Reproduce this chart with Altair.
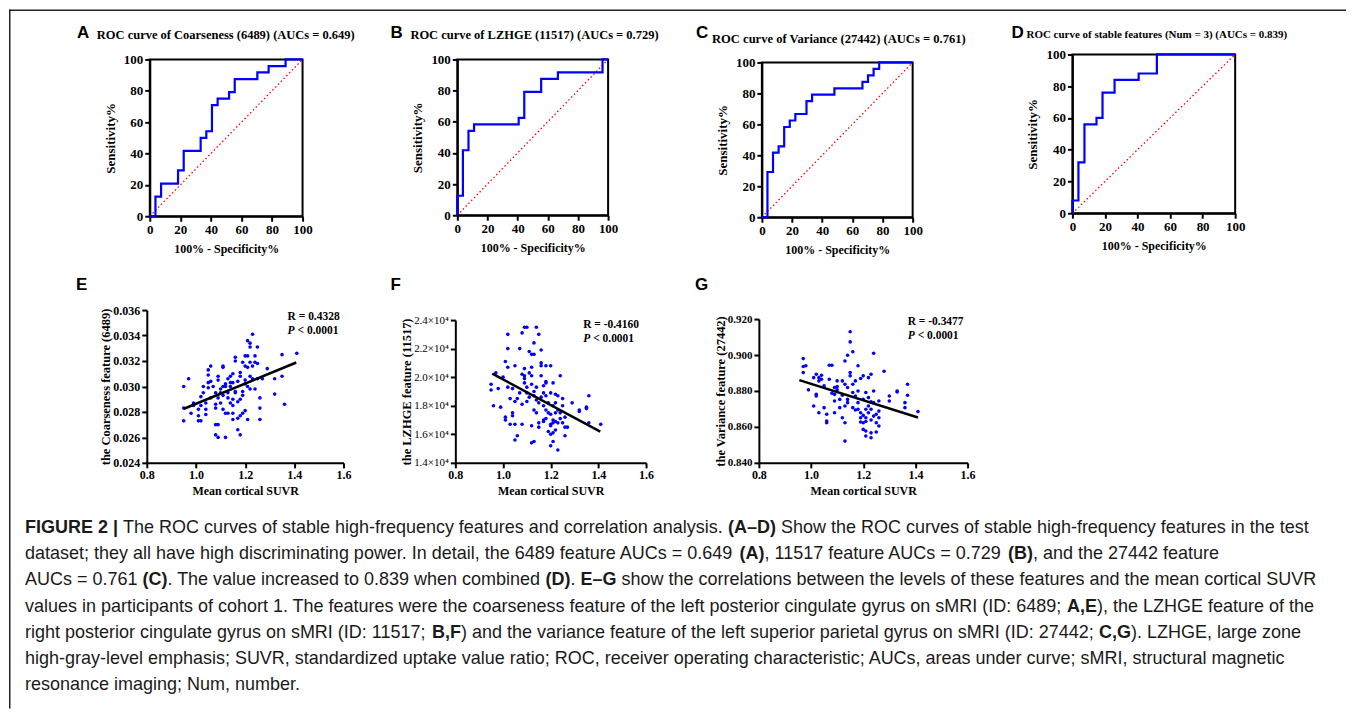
import altair as alt
import pandas as pd

SERIF = "Liberation Serif"
SANS = "Liberation Sans"
BLUE = "#0000ff"

# ---------------- ROC data (step corners: 100%-specificity, sensitivity) -------------
ROC_A_FPR = [0, 3.7, 7.4, 18.5, 22.2, 33.3, 37.0, 40.7, 44.4, 51.9, 55.6, 70.4, 77.8, 88.9, 100]
ROC_A_TPR = [0, 12.5, 20.8, 29.2, 41.7, 50.0, 54.2, 70.8, 75.0, 79.2, 87.5, 91.7, 95.8, 100, 100]
ROC_B_FPR = [0, 0, 3.7, 7.4, 11.1, 40.7, 44.4, 55.6, 66.7, 96.3, 100]
ROC_B_TPR = [0, 12.5, 41.7, 54.2, 58.3, 62.5, 79.2, 87.5, 91.7, 100, 100]
ROC_C_FPR = [0, 3.7, 7.4, 11.1, 14.8, 18.5, 22.2, 29.6, 33.3, 48.1, 66.7, 70.4, 74.1, 77.8, 100]
ROC_C_TPR = [0, 29.2, 41.7, 45.8, 58.3, 62.5, 66.7, 75.0, 79.2, 83.3, 87.5, 91.7, 95.8, 100, 100]
ROC_D_FPR = [0, 0, 3.7, 7.4, 14.8, 18.5, 25.9, 40.7, 51.9, 100]
ROC_D_TPR = [0, 8, 32, 56, 60, 76, 84, 88, 100, 100]
DIAG = [0, 100]
ROC_TICKS = [0, 20, 40, 60, 80, 100]

# ---------------- correlation data (mean cortical SUVR, feature) -------------
E_POINTS = [(0.95,0.0300),(0.95,0.0273),(0.95,0.0283),(0.97,0.0306),(0.98,0.0279),(0.99,0.0287),
    (0.99,0.0285),(1.01,0.0282),(1.01,0.0273),(1.02,0.0273),(1.01,0.0277),(1.02,0.0285),(1.02,0.0292),
    (1.03,0.0295),(1.03,0.0300),(1.04,0.0278),(1.04,0.0282),(1.04,0.0287),(1.05,0.0299),(1.05,0.0303),
    (1.05,0.0309),(1.05,0.0313),(1.06,0.0316),(1.06,0.0304),(1.06,0.0291),(1.07,0.0300),(1.08,0.0295),
    (1.08,0.0286),(1.08,0.0283),(1.08,0.0270),(1.08,0.0262),(1.09,0.0291),(1.09,0.0305),(1.09,0.0308),
    (1.09,0.0270),(1.09,0.0260),(1.10,0.0287),(1.10,0.0298),(1.10,0.0295),(1.11,0.0300),(1.11,0.0293),
    (1.11,0.0316),(1.11,0.0315),(1.11,0.0282),(1.12,0.0260),(1.12,0.0279),(1.12,0.0302),(1.12,0.0300),
    (1.13,0.0279),(1.13,0.0295),(1.13,0.0306),(1.13,0.0291),(1.14,0.0303),(1.14,0.0287),(1.14,0.0300),
    (1.14,0.0308),(1.15,0.0310),(1.15,0.0290),(1.15,0.0303),(1.15,0.0285),(1.15,0.0274),(1.15,0.0279),
    (1.16,0.0320),(1.16,0.0296),(1.16,0.0295),(1.16,0.0323),(1.17,0.0304),(1.17,0.0288),(1.17,0.0275),
    (1.17,0.0266),(1.18,0.0262),(1.18,0.0277),(1.18,0.0308),(1.18,0.0290),(1.18,0.0311),(1.19,0.0319),
    (1.19,0.0296),(1.19,0.0279),(1.19,0.0293),(1.20,0.0302),(1.20,0.0316),(1.20,0.0324),(1.20,0.0281),
    (1.20,0.0305),(1.21,0.0336),(1.21,0.0315),(1.21,0.0324),(1.21,0.0274),(1.21,0.0300),(1.22,0.0331),
    (1.22,0.0308),(1.22,0.0334),(1.22,0.0319),(1.22,0.0298),(1.23,0.0341),(1.23,0.0316),(1.23,0.0306),
    (1.24,0.0324),(1.24,0.0298),(1.24,0.0319),(1.25,0.0331),(1.25,0.0306),(1.25,0.0318),(1.26,0.0283),
    (1.26,0.0291),(1.26,0.0274),(1.27,0.0306),(1.29,0.0314),(1.32,0.0306),(1.32,0.0294),(1.35,0.0325),
    (1.35,0.0308),(1.36,0.0286),(1.41,0.0326)]
E_FIT_X = [0.951, 1.408]
E_FIT_Y = [0.02825, 0.03188]

F_POINTS = [(0.95,19500),(0.95,19100),(0.96,18000),(0.97,20300),(0.98,19200),(0.99,17900),(1.00,20000),
    (1.01,17200),(1.01,17000),(1.01,21100),(1.02,23000),(1.02,22000),(1.02,20700),(1.02,19300),(1.03,18500),
    (1.03,16700),(1.04,19200),(1.04,17500),(1.04,17300),(1.05,20800),(1.05,15600),(1.05,16700),(1.05,18300),
    (1.06,18500),(1.06,15900),(1.07,18900),(1.07,22000),(1.08,20200),(1.08,18100),(1.08,16700),(1.08,23100),
    (1.09,23500),(1.09,19600),(1.09,20100),(1.09,20600),(1.09,19900),(1.10,23500),(1.10,19300),(1.10,18300),
    (1.10,18900),(1.11,20300),(1.11,21800),(1.11,18600),(1.12,20100),(1.12,19500),(1.12,21600),(1.12,16600),
    (1.12,15400),(1.12,20700),(1.13,19000),(1.13,22400),(1.13,21600),(1.13,18700),(1.13,17700),(1.13,15500),
    (1.14,19300),(1.14,23500),(1.14,18400),(1.14,17500),(1.15,18200),(1.15,23000),(1.15,16800),(1.15,16500),
    (1.16,21900),(1.16,21000),(1.16,20800),(1.16,18600),(1.16,20100),(1.17,19400),(1.17,17000),(1.17,18000),
    (1.17,16900),(1.17,18900),(1.18,20800),(1.18,19700),(1.18,17100),(1.18,18700),(1.18,19600),(1.18,17700),
    (1.19,16200),(1.19,17500),(1.19,18200),(1.20,16700),(1.20,20800),(1.20,15200),(1.20,18900),(1.20,16600),
    (1.20,17400),(1.20,16000),(1.21,19600),(1.21,18000),(1.21,16800),(1.21,16100),(1.21,15500),(1.21,17000),
    (1.22,18200),(1.22,17500),(1.22,18800),(1.22,16300),(1.22,16900),(1.23,14900),(1.23,16800),(1.23,18700),
    (1.23,17700),(1.24,17500),(1.24,20100),(1.24,17100),(1.25,18500),(1.25,18000),(1.25,16800),(1.26,15900),
    (1.26,17200),(1.26,16500),(1.27,16500),(1.29,18200),(1.32,17600),(1.32,17700),(1.35,17900),(1.35,17800),
    (1.36,18700),(1.36,16800),(1.41,16700)]
F_FIT_X = [0.955, 1.408]
F_FIT_Y = [20250, 16180]

G_POINTS = [(0.97,0.8980),(0.97,0.8936),(0.97,0.8902),(0.98,0.8940),(0.99,0.8806),(1.01,0.8716),(1.01,0.8874),
    (1.02,0.8781),(1.02,0.8772),(1.02,0.8893),(1.03,0.8679),(1.03,0.8856),(1.03,0.8874),(1.04,0.8865),
    (1.04,0.8887),(1.05,0.8828),(1.05,0.8707),(1.06,0.8670),(1.06,0.8633),(1.06,0.8623),(1.07,0.8865),
    (1.07,0.8943),(1.08,0.8787),(1.08,0.8943),(1.09,0.8819),(1.09,0.8744),(1.09,0.8679),(1.09,0.8781),
    (1.10,0.8856),(1.10,0.8824),(1.10,0.8806),(1.11,0.8707),(1.11,0.8753),(1.12,0.8776),(1.12,0.8651),
    (1.12,0.8856),(1.13,0.8967),(1.13,0.8623),(1.13,0.8837),(1.13,0.8716),(1.13,0.8521),(1.14,0.8999),
    (1.14,0.8735),(1.14,0.8819),(1.14,0.8753),(1.15,0.9129),(1.15,0.9073),(1.15,0.8902),(1.15,0.8884),
    (1.16,0.9018),(1.16,0.8791),(1.16,0.8707),(1.16,0.8837),(1.17,0.8694),(1.17,0.8772),(1.17,0.8856),
    (1.18,0.8940),(1.18,0.8735),(1.18,0.8800),(1.18,0.8698),(1.19,0.8679),(1.19,0.8651),(1.19,0.8869),
    (1.19,0.8627),(1.20,0.8586),(1.20,0.8753),(1.20,0.8664),(1.20,0.8884),(1.20,0.8623),(1.21,0.8577),
    (1.21,0.8791),(1.21,0.8698),(1.21,0.8651),(1.21,0.8549),(1.21,0.8630),(1.22,0.8874),(1.22,0.8716),
    (1.22,0.8763),(1.22,0.8679),(1.23,0.8893),(1.23,0.8638),(1.23,0.8567),(1.23,0.8540),(1.23,0.8698),
    (1.23,0.8739),(1.24,0.8800),(1.24,0.9010),(1.24,0.8660),(1.24,0.8735),(1.25,0.8623),(1.25,0.8572),
    (1.25,0.8670),(1.26,0.8688),(1.26,0.8651),(1.26,0.8744),(1.26,0.8605),(1.28,0.8910),(1.30,0.8772),
    (1.30,0.8744),(1.33,0.8800),(1.33,0.8794),(1.36,0.8735),(1.36,0.8707),(1.37,0.8837),(1.37,0.8776),
    (1.41,0.8685)]
G_FIT_X = [0.955, 1.41]
G_FIT_Y = [0.8860, 0.8652]

SUVR_TICKS = [0.8, 1.0, 1.2, 1.4, 1.6]
E_TICKS = [0.024, 0.026, 0.028, 0.030, 0.032, 0.034, 0.036]
F_TICKS = [14000, 16000, 18000, 20000, 22000, 24000]
G_TICKS = [0.84, 0.86, 0.88, 0.90, 0.92]

# ---------------- caption ----------------
CAPTION = [
    [("FIGURE 2 |", True), (" The ROC curves of stable high-frequency features and correlation analysis. ", False),
     ("(A–D)", True), (" Show the ROC curves of stable high-frequency features in the test", False)],
    [("dataset; they all have high discriminating power. In detail, the 6489 feature AUCs = 0.649 ", False),
     ("(A)", True), (", 11517 feature AUCs = 0.729 ", False), ("(B)", True), (", and the 27442 feature", False)],
    [("AUCs = 0.761 ", False), ("(C)", True), (". The value increased to 0.839 when combined ", False), ("(D)", True),
     (". ", False), ("E–G", True), (" show the correlations between the levels of these features and the mean cortical SUVR", False)],
    [("values in participants of cohort 1. The features were the coarseness feature of the left posterior cingulate gyrus on sMRI (ID: 6489; ", False),
     ("A,E", True), ("), the LZHGE feature of the", False)],
    [("right posterior cingulate gyrus on sMRI (ID: 11517; ", False), ("B,F", True),
     (") and the variance feature of the left superior parietal gyrus on sMRI (ID: 27442; ", False), ("C,G", True),
     ("). LZHGE, large zone", False)],
    [("high-gray-level emphasis; SUVR, standardized uptake value ratio; ROC, receiver operating characteristic; AUCs, areas under curve; sMRI, structural magnetic", False)],
    [("resonance imaging; Num, number.", False)],
]

# Arial / Helvetica advance widths (1/1000 em) for laying out mixed-weight caption segments
REG_W = {' ': 278, '!': 278, '"': 355, '%': 889, '&': 667, "'": 191, '(': 333, ')': 333, ',': 278, '-': 333,
         '.': 278, '/': 278, ':': 278, ';': 278, '=': 584, '|': 260, '–': 556,
         'A': 667, 'B': 667, 'C': 722, 'D': 722, 'E': 667, 'F': 611, 'G': 778, 'H': 722, 'I': 278, 'J': 500,
         'K': 667, 'L': 556, 'M': 833, 'N': 722, 'O': 778, 'P': 667, 'Q': 778, 'R': 722, 'S': 667, 'T': 611,
         'U': 722, 'V': 667, 'W': 944, 'X': 667, 'Y': 667, 'Z': 611,
         'a': 556, 'b': 556, 'c': 500, 'd': 556, 'e': 556, 'f': 278, 'g': 556, 'h': 556, 'i': 222, 'j': 222,
         'k': 500, 'l': 222, 'm': 833, 'n': 556, 'o': 556, 'p': 556, 'q': 556, 'r': 333, 's': 500, 't': 278,
         'u': 556, 'v': 500, 'w': 722, 'x': 500, 'y': 500, 'z': 500}
BOLD_W = {' ': 278, '(': 333, ')': 333, ',': 278, '|': 280, '–': 556,
          'A': 722, 'B': 722, 'C': 722, 'D': 722, 'E': 667, 'F': 611, 'G': 778, 'I': 278, 'R': 722, 'U': 722}


def text_units(s, bold):
    table = BOLD_W if bold else REG_W
    return sum(table.get(ch, 556) for ch in s)


# ---------------- layout: one full-page layer, plot coords = page coords - 8 ----------------
W, H = 1339, 700
CAP_X0 = 16
CAP_LINE1_END = 1302
CAP_Y0 = 519
CAP_DY = 26.3
line1_units = sum(text_units(t, b) for t, b in CAPTION[0])
CAP_FS = (CAP_LINE1_END - CAP_X0) * 1000.0 / line1_units


def txt(text, x, y, size, font=SERIF, weight="bold", style="normal", align="left", baseline="alphabetic"):
    return alt.Chart(pd.DataFrame({"t": [text]})).mark_text(
        align=align, baseline=baseline, font=font, fontSize=size, fontWeight=weight,
        fontStyle=style, color="black").encode(x=alt.value(x), y=alt.value(y), text="t:N")


def axis(title, values, orient, offset, label_size=13, title_size=13, title_pad=6, label_weight="bold",
         fmt=None, expr=None):
    kw = dict(values=values, title=title, orient=orient, offset=offset, grid=False, labelFont=SERIF,
              labelFontSize=label_size, labelFontWeight=label_weight, labelColor="black", titleFont=SERIF,
              titleFontSize=title_size, titleFontWeight="bold", titleColor="black", domainColor="black",
              domainWidth=2, tickColor="black", tickWidth=2, tickSize=5, labelPadding=2,
              titlePadding=title_pad, labelFlush=False, labelOverlap=False, zindex=0)
    if fmt:
        kw["format"] = fmt
    if expr:
        kw["labelExpr"] = expr
    return alt.Axis(**kw)


def roc_layers(fpr, tpr, box, letter, letter_xy, title, title_xy, title_size):
    x0, y0, x1, y1 = box  # left, top, right, bottom (plot pixels)
    xs = alt.Scale(domain=[0, 100], range=[x0, x1], nice=False, zero=False)
    ys = alt.Scale(domain=[0, 100], range=[y1, y0], nice=False, zero=False)
    frame = alt.Chart(pd.DataFrame({"a": [0], "b": [100]})).mark_rect(
        fillOpacity=0, stroke="black", strokeWidth=2).encode(
        x=alt.X("a:Q", scale=xs, axis=None), x2="b:Q",
        y=alt.Y("a:Q", scale=ys, axis=None), y2="b:Q")
    diag = alt.Chart(pd.DataFrame({"fpr": DIAG, "tpr": DIAG})).mark_line(
        color="#ff0000", strokeWidth=1.3, strokeDash=[1.5, 2.5]).encode(
        x=alt.X("fpr:Q", scale=xs, axis=axis("100% - Specificity%", ROC_TICKS, "bottom", -(H - y1),
                                             title_size=12, title_pad=7)),
        y=alt.Y("tpr:Q", scale=ys, axis=axis("Sensitivity%", ROC_TICKS, "left", -x0, title_pad=6)))
    df = pd.DataFrame({"fpr": fpr, "tpr": tpr, "i": list(range(len(fpr)))})
    curve = alt.Chart(df).mark_line(color=BLUE, strokeWidth=2.2, interpolate="step-after").encode(
        x=alt.X("fpr:Q", scale=xs, axis=None), y=alt.Y("tpr:Q", scale=ys, axis=None), order="i:Q")
    lab = txt(letter, letter_xy[0], letter_xy[1], 17, font=SANS)
    ttl = txt(title, title_xy[0], title_xy[1], title_size)
    return [frame, diag, curve, lab, ttl]


def scatter_layers(points, fit_x, fit_y, box, ydom, yticks, ytitle, letter, letter_xy, r_text, r_xy,
                   yfmt=None, yexpr=None, ylab_weight="bold", ylab_size=12, ytitle_pad=0):
    x0, y0, x1, y1 = box
    xs = alt.Scale(domain=[0.8, 1.6], range=[x0, x1], nice=False, zero=False)
    ys = alt.Scale(domain=ydom, range=[y1, y0], nice=False, zero=False)
    df = pd.DataFrame(points, columns=["suvr", "feat"])
    pts = alt.Chart(df).mark_circle(size=13, color=BLUE, opacity=1).encode(
        x=alt.X("suvr:Q", scale=xs, axis=axis("Mean cortical SUVR", SUVR_TICKS, "bottom", -(H - y1),
                                                label_size=12, title_size=12, title_pad=5, fmt=".1f")),
        y=alt.Y("feat:Q", scale=ys, axis=axis(ytitle, yticks, "left", -x0, label_size=ylab_size,
                                              title_size=12.5, title_pad=ytitle_pad, label_weight=ylab_weight,
                                              fmt=yfmt, expr=yexpr)))
    fit = alt.Chart(pd.DataFrame({"suvr": fit_x, "feat": fit_y})).mark_line(
        color="black", strokeWidth=2.5).encode(
        x=alt.X("suvr:Q", scale=xs, axis=None), y=alt.Y("feat:Q", scale=ys, axis=None))
    lab = txt(letter, letter_xy[0], letter_xy[1], 17, font=SANS)
    r1 = txt(r_text, r_xy[0], r_xy[1], 11.5)
    p1 = txt("P", r_xy[0], r_xy[1] + 13.5, 11.5, style="italic")
    p2 = txt("< 0.0001", r_xy[0] + 10, r_xy[1] + 13.5, 11.5)
    return [pts, fit, lab, r1, p1, p2]


layers = []
layers += roc_layers(ROC_A_FPR, ROC_A_TPR, (141, 50, 294, 207), "A", (68, 29),
                     "ROC curve of Coarseness (6489) (AUCs = 0.649)", (88, 30), 12.5)
layers += roc_layers(ROC_B_FPR, ROC_B_TPR, (449, 50, 600, 206), "B", (382, 29),
                     "ROC curve of LZHGE (11517) (AUCs = 0.729)", (402, 30), 12.5)
layers += roc_layers(ROC_C_FPR, ROC_C_TPR, (754, 53, 905, 208), "C", (688, 29),
                     "ROC curve of Variance (27442) (AUCs = 0.761)", (704, 34), 12.6)
layers += roc_layers(ROC_D_FPR, ROC_D_TPR, (1065, 45, 1228, 204), "D", (1004, 29),
                     "ROC curve of stable features (Num = 3) (AUCs = 0.839)", (1019, 29), 11)
layers += scatter_layers(E_POINTS, E_FIT_X, E_FIT_Y, (138, 301, 335, 454), [0.024, 0.036], E_TICKS,
                         "the Coarseness feature (6489)", "E", (67, 281), "R = 0.4328", (279, 311), yfmt=".3f")
layers += scatter_layers(F_POINTS, F_FIT_X, F_FIT_Y, (447, 311, 638, 454), [14000, 24000], F_TICKS,
                         "the LZHGE feature (11517)", "F", (382, 281), "R = -0.4160", (575, 319),
                         yexpr="format(datum.value / 10000, '.1f') + '×10⁴'", ylab_weight="normal", ylab_size=11)
layers += scatter_layers(G_POINTS, G_FIT_X, G_FIT_Y, (751, 310, 960, 454), [0.84, 0.92], G_TICKS,
                         "the Variance feature (27442)", "G", (687, 281), "R = -0.3477", (900, 316), yfmt=".3f",
                         ylab_size=11)

# caption segments laid out with Arial metrics
rows = []
for li, segs in enumerate(CAPTION):
    pos = 0.0
    for seg, bold in segs:
        lead = len(seg) - len(seg.lstrip(" "))
        x = CAP_X0 + (pos + text_units(seg[:lead], bold)) * CAP_FS / 1000.0
        rows.append({"x": x, "y": CAP_Y0 + li * CAP_DY, "t": seg.strip(" "), "w": "bold" if bold else "normal"})
        pos += text_units(seg, bold)
cap_df = pd.DataFrame(rows)

cap_norm = alt.Chart(cap_df).transform_filter(alt.datum.w == "normal").mark_text(
    align="left", baseline="middle", font=SANS, fontSize=CAP_FS, color="#1a1a1a").encode(
    x=alt.X("x:Q", scale=None), y=alt.Y("y:Q", scale=None), text="t:N")
cap_bold = alt.Chart(cap_df).transform_filter(alt.datum.w == "bold").mark_text(
    align="left", baseline="middle", font=SANS, fontSize=CAP_FS, fontWeight="bold", color="#1a1a1a").encode(
    x=alt.X("x:Q", scale=None), y=alt.Y("y:Q", scale=None), text="t:N")
border_left = alt.Chart(pd.DataFrame({"s": [0]})).mark_rule(color="#222222", strokeWidth=1.5).encode(
    x=alt.value(0.75), y=alt.value(0), y2=alt.value(H))
border_top = alt.Chart(pd.DataFrame({"s": [0]})).mark_rule(color="#222222", strokeWidth=1.5).encode(
    x=alt.value(0), x2=alt.value(W), y=alt.value(0.75))
layers += [cap_norm, cap_bold, border_left, border_top]

chart = alt.layer(*layers).resolve_scale(x="independent", y="independent").properties(
    width=W, height=H, padding=0, background="white").configure_view(stroke=None)

chart.save("out.html", embed_options={"renderer": "svg", "actions": False})
